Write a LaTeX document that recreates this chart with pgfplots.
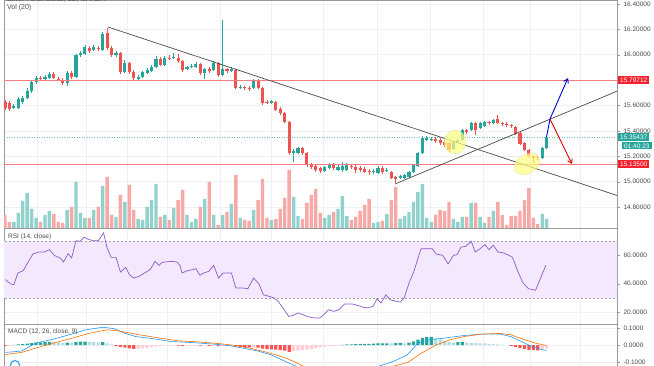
\documentclass[border=0pt]{standalone}
\usepackage{pgfplots}
\pgfplotsset{compat=1.18}
\usepackage{pgfplotstable}
\usepackage{fontspec}
\setmainfont{Liberation Sans}
\usetikzlibrary{arrows.meta}

\definecolor{upc}{HTML}{26A69A}
\definecolor{dnc}{HTML}{EF5350}
\definecolor{upv}{HTML}{92D2CC}
\definecolor{dnv}{HTML}{F7A9A7}
\definecolor{gridc}{HTML}{EDF0F5}
\definecolor{rsibg}{HTML}{F3E8FD}
\definecolor{rsil}{HTML}{8E5AC8}
\definecolor{macdb}{HTML}{2196F3}
\definecolor{macdo}{HTML}{FF6D00}
\definecolor{hup}{HTML}{26A69A}
\definecolor{hupl}{HTML}{B2DFDB}
\definecolor{hdn}{HTML}{FF5252}
\definecolor{hdnl}{HTML}{FFCDD2}
\definecolor{hline}{HTML}{F77C80}
\definecolor{labred}{HTML}{F5222D}
\definecolor{tline}{HTML}{4A4A4A}
\definecolor{lab}{HTML}{4A4A4A}
\definecolor{yel}{HTML}{FFFF80}

\pgfplotstableread{
k o h l c v
2 15.580 15.612 15.573 15.596 6
3 15.580 15.667 15.573 15.651 15
4 15.628 15.675 15.612 15.659 27
5 15.659 15.738 15.651 15.714 35
6 15.714 15.801 15.699 15.785 19
7 15.785 15.833 15.770 15.817 10
9 15.809 15.840 15.801 15.825 13
10 15.817 15.864 15.809 15.848 17
14 15.777 15.872 15.754 15.856 18
16 15.825 16.006 15.817 15.998 46
17 15.998 16.030 15.982 16.014 15
18 16.006 16.077 15.998 16.061 10
20 16.037 16.077 16.030 16.061 18
22 16.037 16.179 16.030 16.164 42
25 15.998 16.030 15.982 16.014 11
27 15.864 15.959 15.856 15.935 26
30 15.809 15.840 15.801 15.825 9
31 15.825 15.872 15.817 15.864 8
32 15.856 15.896 15.848 15.880 21
33 15.872 15.919 15.864 15.904 28
34 15.904 15.990 15.896 15.967 44
36 15.919 15.990 15.911 15.974 13
38 15.974 16.014 15.967 15.982 20
41 15.888 15.911 15.880 15.904 13
42 15.904 15.927 15.896 15.911 6
43 15.904 15.943 15.896 15.927 9
45 15.856 15.896 15.809 15.888 29
47 15.880 15.951 15.872 15.935 13
49 15.840 16.274 15.833 15.888 13
51 15.872 15.904 15.864 15.888 24
53 15.738 15.762 15.730 15.746 10
56 15.738 15.809 15.730 15.801 18
60 15.620 15.643 15.612 15.636 8
65 15.226 15.258 15.155 15.242 31
66 15.226 15.273 15.218 15.265 12
72 15.084 15.123 15.076 15.115 10
73 15.108 15.147 15.100 15.131 13
75 15.092 15.131 15.084 15.115 19
76 15.092 15.155 15.076 15.123 32
77 15.092 15.147 15.084 15.131 12
83 15.076 15.100 15.060 15.084 5
84 15.068 15.123 15.060 15.108 6
86 15.084 15.108 15.076 15.092 14
89 15.029 15.052 15.021 15.045 9
90 15.029 15.060 15.021 15.052 12
91 15.037 15.084 15.029 15.076 16
92 15.076 15.139 15.068 15.131 26
93 15.123 15.234 15.115 15.226 36
94 15.226 15.360 15.218 15.344 44
95 15.328 15.360 15.320 15.344 10
96 15.328 15.352 15.320 15.336 6
101 15.258 15.320 15.250 15.313 9
102 15.313 15.336 15.305 15.328 6
103 15.328 15.415 15.320 15.407 11
105 15.407 15.470 15.399 15.462 25
107 15.423 15.470 15.415 15.462 11
108 15.439 15.478 15.431 15.470 5
110 15.462 15.494 15.454 15.486 17
121 15.186 15.273 15.179 15.265 14
122 15.265 15.360 15.258 15.352 9
}\up

\pgfplotstableread{
k o h l c v
0 15.628 15.643 15.565 15.580 13
1 15.620 15.636 15.557 15.573 6
8 15.817 15.833 15.793 15.809 6
11 15.848 15.864 15.809 15.817 14
12 15.809 15.825 15.793 15.801 6
13 15.801 15.817 15.762 15.777 5
15 15.856 15.872 15.809 15.825 21
19 16.053 16.069 16.014 16.030 10
21 16.053 16.069 16.030 16.045 21
23 16.171 16.211 16.037 16.053 51
24 16.053 16.069 15.982 15.998 13
26 16.014 16.022 15.848 15.864 33
28 15.935 15.943 15.848 15.864 43
29 15.864 15.880 15.801 15.817 18
35 15.967 15.982 15.911 15.919 11
37 15.974 15.998 15.959 15.967 8
39 15.974 16.006 15.935 15.951 28
40 15.951 15.959 15.864 15.880 38
44 15.927 15.935 15.840 15.856 21
46 15.888 15.904 15.856 15.872 46
48 15.935 15.943 15.825 15.840 3
50 15.888 15.896 15.856 15.872 16
52 15.880 15.888 15.730 15.738 53
54 15.746 15.754 15.722 15.738 8
55 15.738 15.754 15.714 15.730 7
57 15.801 15.809 15.730 15.738 28
58 15.738 15.746 15.604 15.620 49
59 15.628 15.643 15.612 15.620 10
61 15.628 15.636 15.557 15.565 9
62 15.573 15.588 15.525 15.541 19
63 15.541 15.549 15.462 15.470 30
64 15.470 15.478 15.210 15.226 58
67 15.265 15.273 15.210 15.226 9
68 15.226 15.234 15.115 15.131 25
69 15.139 15.147 15.100 15.115 33
70 15.123 15.139 15.076 15.092 39
71 15.108 15.115 15.068 15.084 15
74 15.131 15.147 15.092 15.108 16
78 15.123 15.139 15.100 15.115 8
79 15.115 15.131 15.068 15.092 11
80 15.108 15.123 15.076 15.092 17
81 15.100 15.115 15.068 15.076 23
82 15.084 15.100 15.052 15.076 29
85 15.108 15.123 15.060 15.076 7
87 15.076 15.084 15.021 15.029 28
88 15.037 15.045 14.989 15.021 41
97 15.336 15.352 15.305 15.320 13
98 15.328 15.344 15.289 15.305 18
99 15.313 15.328 15.273 15.289 17
100 15.305 15.313 15.234 15.250 26
104 15.407 15.415 15.376 15.391 11
106 15.462 15.470 15.368 15.407 25
109 15.470 15.478 15.446 15.462 11
111 15.494 15.525 15.454 15.462 26
112 15.462 15.470 15.439 15.454 13
113 15.454 15.470 15.431 15.446 3
114 15.446 15.454 15.423 15.439 12
115 15.431 15.439 15.368 15.376 12
116 15.383 15.391 15.289 15.297 17
117 15.305 15.313 15.242 15.250 28
118 15.250 15.258 15.186 15.202 40
119 15.202 15.210 15.147 15.186 10
120 15.194 15.210 15.171 15.186 4
}\down

\newcommand\tl{\fontsize{6.5}{7}\selectfont}

\pgfplotsset{
  pane/.style={
    scale only axis, width=613pt, anchor=south west,
    xmin=-0.225, xmax=137.84,
    axis line style={black!40},
    xtick={7.2,18.2,27.5,36.5,48.4,59.9,71.6,83.8,95.9,107.7,118.2,129.5},
    xticklabels={}, xtick style={draw=none},
    xmajorgrids, ymajorgrids, major grid style={gridc, line width=0.6pt},
    ytick pos=right, yticklabel pos=right,
    tick align=outside, major tick length=3pt, ytick style={black!40},
    tick label style={font=\tl, text=lab},
    /pgf/number format/assume math mode=true,
  },
  vbar/.style={ybar, bar width=3.4pt, bar shift=0pt, draw=none},
  hbar/.style={ybar, bar width=3.2pt, bar shift=0pt, draw=none},
}

\begin{document}
\begin{tikzpicture}[x=1pt,y=1pt]
\useasboundingbox (0,0) rectangle (654,366);

% ---------- price pane ----------
\begin{axis}[pane, at={(4pt,138pt)}, height=228pt,
  ymin=14.6345, ymax=16.4315,
  ytick={14.8,15,15.2,15.4,15.6,15.8,16,16.2,16.4},
  yticklabels={14.80000,15.00000,15.20000,15.40000,15.60000,,16.00000,16.20000,16.40000}]
% wicks
\addplot[draw=none, mark=none, forget plot, error bars/.cd, y dir=plus, y explicit, error mark=none,
  error bar style={draw=upc, line width=0.8pt}]
  table[x=k, y=l, y error expr={\thisrow{h}-\thisrow{l}}] {\up};
\addplot[draw=none, mark=none, forget plot, error bars/.cd, y dir=plus, y explicit, error mark=none,
  error bar style={draw=dnc, line width=0.8pt}]
  table[x=k, y=l, y error expr={\thisrow{h}-\thisrow{l}}] {\down};
% bodies
\addplot[draw=none, mark=none, forget plot, error bars/.cd, y dir=plus, y explicit, error mark=none,
  error bar style={draw=upc, line width=3.1pt}]
  table[x=k, y=o, y error expr={\thisrow{c}-\thisrow{o}}] {\up};
\addplot[draw=none, mark=none, forget plot, error bars/.cd, y dir=plus, y explicit, error mark=none,
  error bar style={draw=dnc, line width=3.1pt}]
  table[x=k, y=c, y error expr={\thisrow{o}-\thisrow{c}}] {\down};
\end{axis}

% ---------- volume overlay ----------
\begin{axis}[pane, at={(4pt,138pt)}, height=228pt, hide axis, ymin=0, ymax=228]
\addplot[vbar, fill=upv] table[x=k, y=v] {\up};
\addplot[vbar, fill=dnv] table[x=k, y=v] {\down};
\end{axis}

% ---------- RSI pane ----------
\begin{axis}[pane, at={(4pt,42pt)}, height=96pt,
  ymin=11.75, ymax=79.1, ytick={20,40,60},
  yticklabel style={/pgf/number format/.cd, fixed, fixed zerofill, precision=4}]
\fill[rsibg] (axis cs:-1,30) rectangle (axis cs:140,70);
\draw[black!35, dash pattern=on 2pt off 2pt, line width=0.5pt] (axis cs:-1,70) -- (axis cs:140,70);
\draw[black!35, dash pattern=on 2pt off 2pt, line width=0.5pt] (axis cs:-1,30) -- (axis cs:140,30);
\addplot[rsil, line width=0.7pt, mark=none] coordinates {
(0.1,42.9)(1.3,39.8)(2,39.4)(2.9,47.5)(4.1,49.2)(5.3,55.7)(6.3,60.9)(7.6,62.3)(8.9,62.3)(10,63.9)
(11.1,59.9)(12.4,58.1)(13.2,55.3)(14.2,61.1)(15,58.1)(16,70.2)(16.9,69.8)(17.8,72.6)(18.9,71)(20,70.2)
(21,70.2)(22.2,75.6)(23,65.1)(23.9,58.5)(25,58.5)(26,48.2)(27.2,51.5)(28,46.4)(29,44)(30.2,45.2)
(31.4,47.5)(32.7,49.9)(33.8,55.7)(34.7,52.9)(35.4,55)(37.4,55.7)(38.7,55.3)(39.4,52.9)(39.9,47.5)(41.1,49.2)
(42.3,49.9)(43,50.6)(43.9,45.9)(44.7,47.5)(45.9,48.7)(47,52.9)(48.1,44)(49.1,47.5)(50.4,47.5)(51,47.5)
(52,37)(53.6,37)(54.7,36.5)(56,44)(57.2,39.8)(58.2,32.3)(59.4,31.2)(60.6,30)(61.5,27.7)(62.6,23)
(63.9,17.1)(64.9,17.8)(66,19.5)(67.1,18.3)(68.2,16.9)(69.6,16)(70.9,16)(71.6,17.8)(72.9,21.8)(74.1,20.6)
(75.2,21.8)(76.5,25.8)(78.2,25.8)(79.3,24.9)(80.5,23.7)(81.8,23)(82.9,24.2)(83.8,29.5)(84.7,26.5)(85.8,32.3)
(86.7,28.8)(88.1,27.7)(89,27.2)(89.9,30)(91,40.5)(92.1,48.7)(93.7,64.6)(95,64.6)(96.2,64.6)(97.1,60.9)
(98.6,59.9)(99.8,53.9)(101,59.9)(101.8,60.4)(102.7,65.6)(103.8,66.3)(105,69.8)(105.9,62.3)(107,64.6)(108.1,67.4)
(109,63.9)(110,67)(111,62.3)(112.3,61.6)(113.5,59.9)(114.3,58.5)(115.5,48.7)(116.7,40.5)(117.9,36.5)(119.5,35.4)
(120.7,44.5)(121.8,52.9)};
\end{axis}

% ---------- MACD pane ----------
\begin{axis}[pane, at={(4pt,-1pt)}, height=43pt,
  ymin=-0.1261, ymax=0.1225, ytick={-0.1,0,0.1},
  yticklabel style={/pgf/number format/.cd, fixed, fixed zerofill, precision=4}]
\addplot[hbar, fill=hup] coordinates {(2,0.002)(3,0.004)(4,0.006)(5,0.009)(6,0.012)(7,0.015)(8,0.016)(9,0.018)(10,0.019)(14,0.015)(16,0.018)(17,0.020)(18,0.021)(22,0.017)(76,0.002)(77,0.004)(78,0.005)(79,0.006)(80,0.007)(81,0.008)(82,0.008)(83,0.009)(84,0.010)(85,0.011)(86,0.011)(88,0.012)(89,0.013)(91,0.015)(92,0.022)(93,0.032)(94,0.042)(95,0.047)(96,0.048)(102,0.017)(103,0.018)};
\addplot[hbar, fill=hupl] coordinates {(11,0.018)(12,0.016)(13,0.014)(15,0.013)(19,0.019)(20,0.018)(21,0.016)(23,0.010)(24,0.004)(87,0.010)(90,0.011)(97,0.040)(98,0.033)(99,0.025)(100,0.018)(101,0.016)(104,0.015)(105,0.014)(106,0.012)(107,0.011)(108,0.010)(109,0.008)(110,0.007)(111,0.005)(112,0.003)(113,0.001)};
\addplot[hbar, fill=hdn] coordinates {(0,-0.005)(25,-0.004)(26,-0.010)(27,-0.014)(28,-0.018)(29,-0.021)(39,-0.002)(40,-0.004)(44,-0.003)(46,-0.004)(48,-0.005)(52,-0.008)(53,-0.010)(54,-0.012)(55,-0.013)(57,-0.014)(58,-0.020)(59,-0.023)(60,-0.024)(61,-0.026)(62,-0.028)(63,-0.031)(64,-0.038)(114,-0.004)(115,-0.010)(116,-0.016)(117,-0.022)(118,-0.027)(119,-0.029)(120,-0.030)};
\addplot[hbar, fill=hdnl] coordinates {(1,-0.004)(30,-0.020)(31,-0.018)(32,-0.015)(33,-0.011)(34,-0.007)(35,-0.005)(36,-0.003)(37,-0.002)(38,-0.001)(41,-0.004)(42,-0.003)(43,-0.002)(45,-0.002)(47,-0.003)(49,-0.004)(50,-0.003)(51,-0.002)(56,-0.012)(65,-0.034)(66,-0.031)(67,-0.028)(68,-0.025)(69,-0.021)(70,-0.017)(71,-0.013)(72,-0.009)(73,-0.006)(74,-0.004)(75,-0.002)(121,-0.026)(122,-0.020)};
\addplot[macdb, line width=0.6pt, mark=none] coordinates {(0.1,-0.042)(3.7,-0.034)(6.9,0.012)(10.9,0.035)(15,0.064)(18.2,0.089)(22.2,0.104)(24.6,0.095)(27,0.069)(29.4,0.050)(32.7,0.040)(35,0.031)(37.5,0.021)(40.7,0.017)(43.9,0.012)(47.1,0.006)(50.4,-0.002)(53.6,-0.017)(56.8,-0.033)(60,-0.056)(63.2,-0.095)(65.6,-0.122)(70,-0.150)(76,-0.165)(81,-0.150)(84.1,-0.122)(87.4,-0.095)(90.6,-0.056)(93,0.012)(95.4,0.031)(98.6,0.040)(103.4,0.056)(107.4,0.064)(111.5,0.064)(113.9,0.050)(116.3,0.021)(118.7,-0.008)(121.2,-0.027)(122,-0.030)};
\addplot[macdo, line width=0.6pt, mark=none] coordinates {(0.1,-0.054)(3.7,-0.042)(6.9,-0.017)(10.9,0.012)(15,0.040)(19,0.069)(23,0.089)(25.4,0.083)(29.4,0.064)(32.7,0.050)(35.9,0.037)(39.1,0.025)(42.3,0.021)(45.5,0.015)(48.7,0.008)(52,-0.002)(55.2,-0.017)(58.4,-0.037)(61.6,-0.060)(64.8,-0.091)(67.2,-0.122)(75,-0.160)(82,-0.155)(87.4,-0.122)(90.6,-0.101)(93.8,-0.046)(97,0.0)(100.2,0.031)(103.4,0.050)(107.4,0.064)(111.5,0.068)(113.9,0.060)(117.1,0.031)(119.5,0.012)(121.9,-0.002)};
\end{axis}

% ---------- drawings on the price pane ----------
\begin{scope}
\clip (4,138) rectangle (617,366);
\draw[hline, line width=0.8pt] (4,286) -- (617,286);
\draw[hline, line width=0.8pt] (4,202) -- (617,202);
\draw[upc!70, line width=0.6pt, dash pattern=on 1pt off 1.5pt] (4,229) -- (617,229);
\draw[tline, line width=0.7pt] (108,339) -- (617,170.5);
\draw[tline, line width=0.7pt] (395,182) -- (617,274.8);
\fill[yel, fill opacity=0.7, draw=yel!60!black!40, draw opacity=0.6, line width=0.4pt] (455,224) ellipse [x radius=11, y radius=12];
\fill[yel, fill opacity=0.7, draw=yel!60!black!40, draw opacity=0.6, line width=0.4pt, rotate around={30:(527,202)}] (527,202) ellipse [x radius=14, y radius=9.5];
\draw[blue!85!black, line width=0.9pt, -{Straight Barb[length=4pt, width=5pt]}] (546.5,229) -- (550,247) -- (568,288);
\draw[red!85!black, line width=0.9pt, -{Straight Barb[length=4pt, width=5pt]}] (550,247) -- (572,202);
\end{scope}

% TradingView logo (partly cut at the bottom edge)
\draw[macdb, line width=1pt] (15,1) circle (4.5);

% ---------- texts ----------
\node[anchor=base west, font=\fontsize{7}{8}\selectfont, text=lab, inner sep=0pt] at (7,364.3) {Silver / U.S. Dollar, 1D, OANDA};
\node[anchor=base west, font=\fontsize{7}{8}\selectfont, text=lab, inner sep=0pt] at (7,356) {Vol (20)};
\node[anchor=base west, font=\fontsize{6.5}{8}\selectfont, text=lab, inner sep=0pt] at (8,127) {RSI (14, close)};
\node[anchor=base west, font=\fontsize{6.5}{8}\selectfont, text=lab, inner sep=0pt] at (8,32) {MACD (12, 26, close, 9)};

% ---------- price labels ----------
\node[anchor=west, fill=labred, text=white, font=\tl, inner xsep=2pt, inner ysep=1.6pt] at (618,286) {15.79712};
\node[anchor=west, fill=upc, text=white, font=\tl, inner xsep=2pt, inner ysep=1.6pt] at (618,229) {15.35437};
\node[anchor=west, fill=upc, text=white, font=\tl, inner xsep=2pt, inner ysep=1.2pt] at (622,220) {01:40:23};
\node[anchor=west, fill=labred, text=white, font=\tl, inner xsep=2pt, inner ysep=1.6pt] at (618,202) {15.13500};
\end{tikzpicture}
\end{document}
